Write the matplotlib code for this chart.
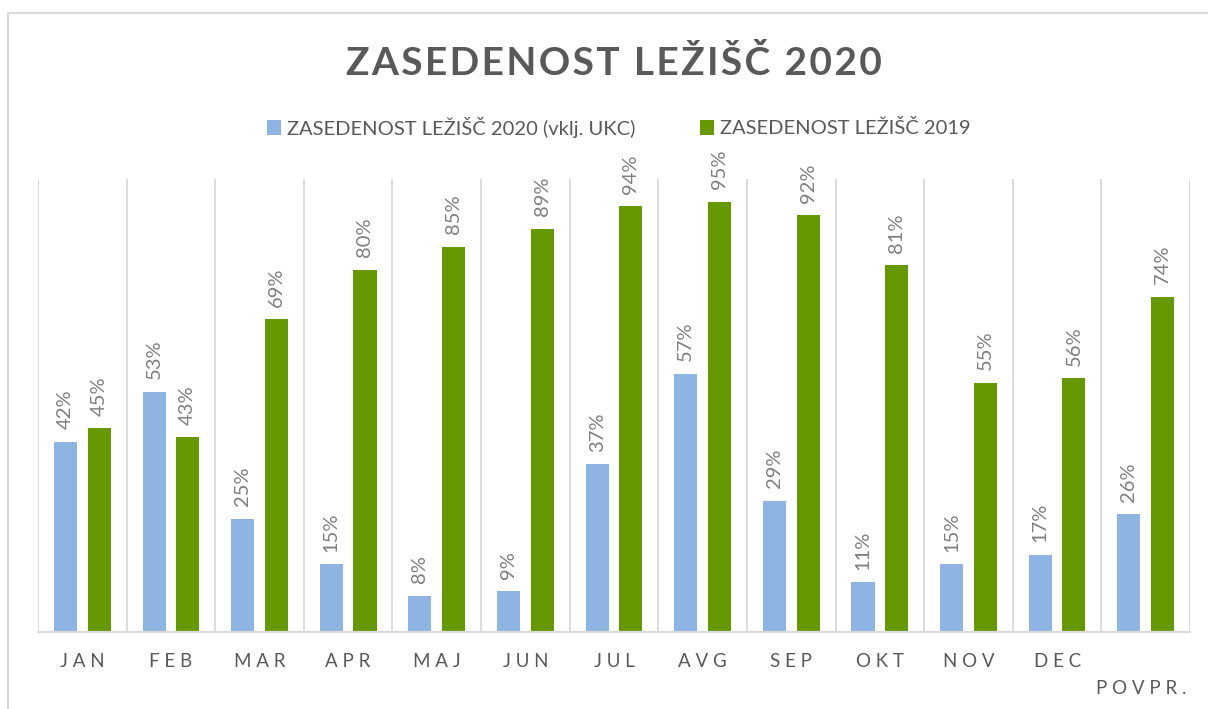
import matplotlib
matplotlib.use("Agg")
import matplotlib.pyplot as plt
from matplotlib.patches import Rectangle
from matplotlib.transforms import ScaledTranslation
import numpy as np

months = ["JAN", "FEB", "MAR", "APR", "MAJ", "JUN", "JUL", "AVG", "SEP", "OKT", "NOV", "DEC", "POVPR."]
occ_2020 = [42, 53, 25, 15, 8, 9, 37, 57, 29, 11, 15, 17, 26]
occ_2019 = [45, 43, 69, 80, 85, 89, 94, 95, 92, 81, 55, 56, 74]
series_names = ["ZASEDENOST LEŽIŠČ 2020 (vklj. UKC)", "ZASEDENOST LEŽIŠČ 2019"]
title = "ZASEDENOST LEŽIŠČ 2020"

BLUE = "#8EB4E3"
GREEN = "#669900"
TXT = "#595959"
LBL = "#7F7F7F"
GRID = "#D9D9D9"
FONT = ["Lato", "DejaVu Sans"]

W, H = 1208, 709
fig = plt.figure(figsize=(W / 100, H / 100), dpi=100)
ax = fig.add_axes([38 / W, 1 - 632 / H, (1190 - 38) / W, (632 - 179) / H])

x = np.arange(len(months))
bw = 0.26
off = 0.19
b1 = ax.bar(x - off, occ_2020, bw, color=BLUE, label=series_names[0], zorder=3)
b2 = ax.bar(x + off, occ_2019, bw, color=GREEN, label=series_names[1], zorder=3)

for bars, vals in ((b1, occ_2020), (b2, occ_2019)):
    for r, v in zip(bars, vals):
        ax.annotate(f"{v}%", (r.get_x() + r.get_width() / 2, r.get_height()),
                    xytext=(0, 9), textcoords="offset points", rotation=90,
                    ha="center", va="bottom", fontsize=14.5, color=LBL, family=FONT)

ax.set_xlim(-0.5, len(months) - 0.5)
ax.set_ylim(0, 100)
ax.set_yticks([])
ax.set_xticks(x)
ax.set_xticklabels([" ".join(m) for m in months], fontsize=13.5, color=TXT, family=FONT)
ax.tick_params(axis="x", length=0, pad=15)
ax.set_xticks(np.arange(-0.5, len(months)), minor=True)
ax.tick_params(axis="x", which="minor", length=0)
ax.grid(axis="x", which="minor", color=GRID, lw=1.3, zorder=0)
ax.grid(axis="x", which="major", visible=False)
for s in ("top", "left", "right"):
    ax.spines[s].set_visible(False)
ax.spines["bottom"].set_color(GRID)
ax.spines["bottom"].set_linewidth(1.6)
ax.spines["bottom"].set_zorder(4)

lab = ax.get_xticklabels()[-1]
lab.set_transform(lab.get_transform() + ScaledTranslation(-0.05, -0.27, fig.dpi_scale_trans))

fig.text(614 / W, 1 - 63 / H, "\u200a".join(title), ha="center", va="center", fontsize=28,
         fontweight="bold", color=TXT, family=FONT)

fig.legend(handles=[b1, b2], loc="center", bbox_to_anchor=(619 / W, 1 - 127 / H),
           ncol=2, frameon=False, handlelength=0.7, handleheight=0.8,
           handletextpad=0.3, columnspacing=3.2, prop={"family": FONT, "size": 14.5},
           labelcolor=TXT)

fig.patches.append(Rectangle((8 / W, -0.1), 1.2, (H - 13) / H + 0.1, transform=fig.transFigure,
                             fill=False, edgecolor=GRID, lw=1.5))

fig.savefig("out.png", dpi=100)
